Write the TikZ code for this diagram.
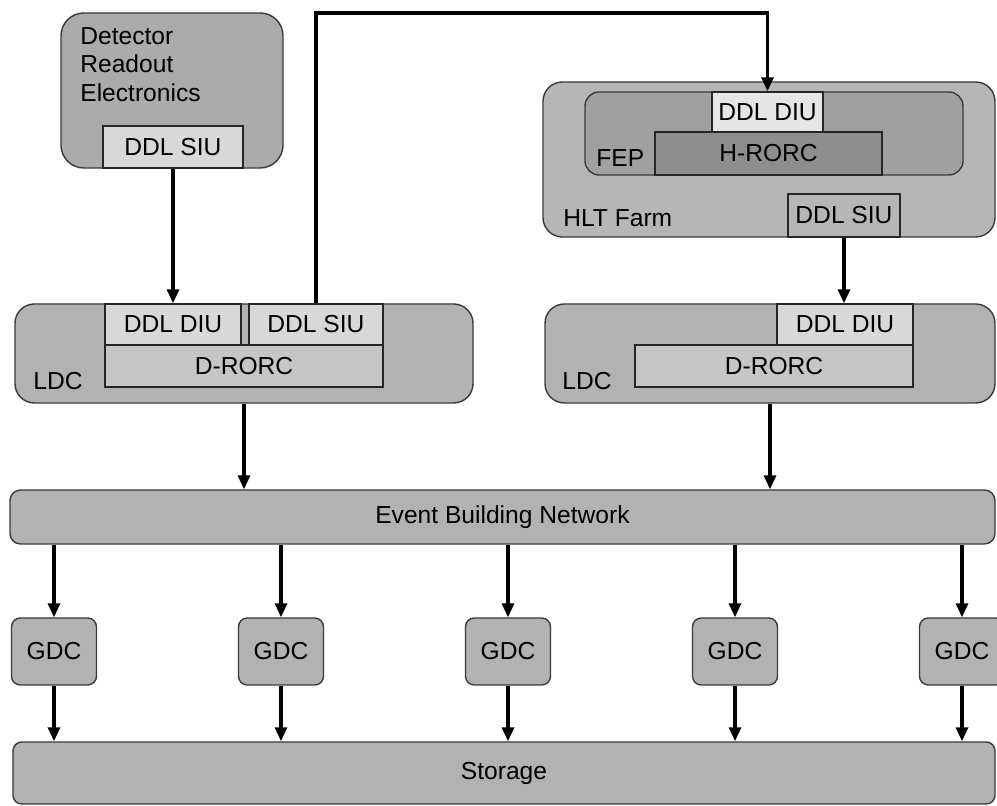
\documentclass[tikz,border=0pt]{standalone}
\usepackage{fontspec}
\setmainfont{Liberation Sans}
\usetikzlibrary{arrows.meta,positioning}
\definecolor{DetGray} {HTML}{ABABAB}
\definecolor{BoxGray} {HTML}{B2B2B2}
\definecolor{HltGray} {HTML}{B6B6B6}
\definecolor{FepGray} {HTML}{A0A0A0}
\definecolor{HrocGray}{HTML}{8E8E8E}
\definecolor{DdlGray} {HTML}{D8D8D8}
\definecolor{DiuGray} {HTML}{E6E6E6}
\definecolor{RorcGray}{HTML}{C6C6C6}
\definecolor{EdgeGray}{HTML}{3A3A3A}
\tikzset{
  host/.style={rectangle,rounded corners=11pt,draw=EdgeGray,line width=0.8pt,
               fill=#1,inner sep=0pt},
  card/.style={rectangle,draw=black!85,line width=0.8pt,fill=#1,inner sep=0pt,
               font=\fontsize{14}{16}\selectfont},
  gdc/.style={rectangle,rounded corners=5pt,draw=EdgeGray,line width=0.8pt,
              fill=BoxGray,minimum width=1.70cm,minimum height=1.34cm,
              font=\fontsize{14}{16}\selectfont},
  lbl/.style={anchor=base west,inner sep=0pt,font=\fontsize{14}{16.2}\selectfont},
  link/.style={-{Triangle[length=0.28cm,width=0.24cm]},line width=1.8pt},
}
\begin{document}
\begin{tikzpicture}

  \useasboundingbox (0,0) rectangle (19.94,16.12);

  % detector side
  \node[host=DetGray,rounded corners=13pt,minimum width=4.44cm,minimum height=3.10cm]
    (DET) at (3.44,14.31){};
  \node[lbl,anchor=north west,align=left] (DETT) at (1.60,15.58)
    {Detector\\Readout\\Electronics};
  \node[card=DdlGray,minimum width=2.80cm,minimum height=0.84cm] (DSIU) at (3.46,13.18){DDL SIU};

  % left LDC
  \node[host=BoxGray,minimum width=9.16cm,minimum height=1.98cm] (LLDC) at (4.88,9.05){};
  \node[card=DdlGray,minimum width=2.72cm,minimum height=0.82cm] (LDIU) at (3.46,9.63){DDL DIU};
  \node[card=DdlGray,minimum width=2.68cm,minimum height=0.82cm] (LSIU) at (6.32,9.63){DDL SIU};
  \node[card=RorcGray,minimum width=5.56cm,minimum height=0.84cm] (LROC) at (4.88,8.80){D-RORC};
  \node[lbl] (LLDCT) at (0.66,8.32){LDC};

  % HLT farm
  \node[host=HltGray,minimum width=9.04cm,minimum height=3.10cm] (HLT) at (15.38,12.93){};
  \node[host=FepGray,rounded corners=8pt,minimum width=7.56cm,minimum height=1.66cm]
    (FEP) at (15.48,13.45){};
  \node[card=DiuGray,minimum width=2.22cm,minimum height=0.80cm] (HDIU) at (15.35,13.88){DDL DIU};
  \node[card=HrocGray,minimum width=4.54cm,minimum height=0.86cm] (HROC) at (15.37,13.05){H-RORC};
  \node[lbl] (FEPT) at (11.92,12.78){FEP};
  \node[lbl] (HLTT) at (11.26,11.58){HLT Farm};
  \node[card=HltGray,minimum width=2.24cm,minimum height=0.86cm] (HSIU) at (16.88,11.81){DDL SIU};

  % right LDC
  \node[host=BoxGray,minimum width=9.00cm,minimum height=1.98cm] (RLDC) at (15.40,9.05){};
  \node[card=DdlGray,minimum width=2.72cm,minimum height=0.82cm] (RDIU) at (16.90,9.63){DDL DIU};
  \node[card=RorcGray,minimum width=5.56cm,minimum height=0.84cm] (RROC) at (15.48,8.80){D-RORC};
  \node[lbl] (RLDCT) at (11.24,8.32){LDC};

  % event building and storage
  \node[host=BoxGray,rounded corners=6pt,minimum width=19.70cm,minimum height=1.08cm,
        font=\fontsize{14}{16}\selectfont] (EBN) at (10.05,5.78){Event Building Network};
  \node[gdc] (GDC1) at (1.08,3.09){GDC};
  \node[gdc] (GDC2) at (5.62,3.09){GDC};
  \node[gdc] (GDC3) at (10.16,3.09){GDC};
  \node[gdc] (GDC4) at (14.70,3.09){GDC};
  \node[gdc] (GDC5) at (19.24,3.09){GDC};
  \node[host=BoxGray,rounded corners=5pt,minimum width=19.64cm,minimum height=1.24cm,
        font=\fontsize{14}{16}\selectfont] (STO) at (10.08,0.66){Storage};

  \coordinate (TOPW) at (0,15.86);
  \draw[link] (DSIU.south) -- (LDIU.north);
  \draw[link] (LSIU.north) -- (LSIU.north |- TOPW) -| (HDIU.north);
  \draw[link] (HSIU.south) -- (HSIU.south |- RDIU.north);
  \draw[link] (LLDC.south) -- (LLDC.south |- EBN.north);
  \draw[link] (RLDC.south) -- (RLDC.south |- EBN.north);

  \draw[link] (GDC1.north |- EBN.south) -- (GDC1.north);
  \draw[link] (GDC2.north |- EBN.south) -- (GDC2.north);
  \draw[link] (GDC3.north |- EBN.south) -- (GDC3.north);
  \draw[link] (GDC4.north |- EBN.south) -- (GDC4.north);
  \draw[link] (GDC5.north |- EBN.south) -- (GDC5.north);
  \draw[link] (GDC1.south) -- (GDC1.south |- STO.north);
  \draw[link] (GDC2.south) -- (GDC2.south |- STO.north);
  \draw[link] (GDC3.south) -- (GDC3.south |- STO.north);
  \draw[link] (GDC4.south) -- (GDC4.south |- STO.north);
  \draw[link] (GDC5.south) -- (GDC5.south |- STO.north);

\end{tikzpicture}
\end{document}
